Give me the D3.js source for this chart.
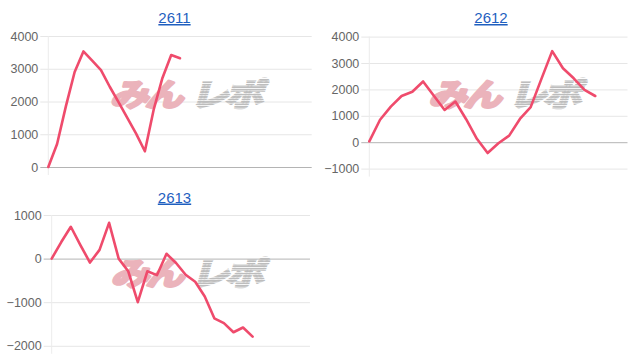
<!DOCTYPE html>
<html>
<head>
<meta charset="utf-8">
<script src="https://cdn.jsdelivr.net/npm/d3@7"></script>
<style>
  body { margin: 0; background: #fff; }
  .tick text { font-family: "Liberation Sans", Arial, sans-serif; font-size: 12.5px; fill: #666; }
  .title { font-family: "Liberation Sans", Arial, sans-serif; font-size: 15px; fill: #1f5fbf; text-decoration: underline; }
</style>
</head>
<body>
<svg id="chart" width="636" height="358"></svg>
<script>
// values (null = no data for that day)
var values2611 = [0, 700, 1850, 2900, 3530, 3250, 2960, 2450, 1980, 1500, 1020, 480, 1750, 2720, 3420, 3320];
var values2612 = [30, 850, 1350, 1750, 1910, 2300, 1760, 1220, 1540, 870, 130, -410, -40, 250, 880, 1330, 2400, 3450, 2800, 2420, 1980, 1750];
var values2613 = [0, 380, 730, 310, -90, 200, 820, 0, -290, -1000, -290, -380, 110, -100, -370, -530, -870, -1370, -1480, -1690, -1580, -1790];

// x categories (labels hidden on the chart)
var days2611 = d3.range(1, 32);
var days2612 = d3.range(1, 26);
var days2613 = d3.range(1, 29);

var ticks2611 = [0, 1000, 2000, 3000, 4000];
var ticks2612 = [-1000, 0, 1000, 2000, 3000, 4000];
var ticks2613 = [-2000, -1000, 0, 1000];

var charts = [
  {title: "2611", values: values2611, days: days2611, ticks: ticks2611, left: 48.3, right: 311.7, top: 36, bottom: 167, tx: 174.5, ty: 23, wy: 106},
  {title: "2612", values: values2612, days: days2612, ticks: ticks2612, left: 369.3, right: 627.5, top: 36.6, bottom: 168.6, tx: 491, ty: 23, wy: 106},
  {title: "2613", values: values2613, days: days2613, ticks: ticks2613, left: 51.7, right: 310, top: 215, bottom: 345.8, tx: 174.5, ty: 202.5, wy: 285}
];

var svg = d3.select("#chart");

// stripe pattern for the grey half of the watermark
var defs = svg.append("defs");
defs.append("pattern")
  .attr("id", "stripes")
  .attr("patternUnits", "userSpaceOnUse")
  .attr("width", 4).attr("height", 3)
  .append("rect")
  .attr("width", 4).attr("height", 2)
  .attr("fill", "#bdbdbd");

charts.forEach(function(c) {
  var g = svg.append("g");

  var x = d3.scaleLinear()
    .domain([0, c.days.length - 1])
    .range([c.left, c.right]);

  var y = d3.scaleLinear()
    .domain(d3.extent(c.ticks))
    .range([c.bottom, c.top]);

  // title
  g.append("text")
    .attr("class", "title")
    .attr("x", c.tx)
    .attr("y", c.ty)
    .attr("text-anchor", "middle")
    .text(c.title);

  // y axis + grid
  var axis = g.append("g")
    .attr("transform", "translate(" + c.left + ",0)")
    .call(d3.axisLeft(y)
      .tickValues(c.ticks)
      .tickSize(-(c.right - c.left))
      .tickPadding(10)
      .tickFormat(d3.format("d")));

  axis.select(".domain").remove();
  axis.selectAll(".tick line")
    .attr("x1", -8)
    .attr("stroke", function(d) { return d === 0 ? "#b4b4b4" : "#e6e6e6"; });

  // left vertical grid line
  g.append("line")
    .attr("x1", c.left).attr("x2", c.left)
    .attr("y1", c.top).attr("y2", c.bottom + 8)
    .attr("stroke", "#ececec");

  // watermark
  var wx = (c.left + c.right) / 2 - 70;
  var wm = g.append("g")
    .attr("transform", "translate(" + wx + "," + c.wy + ") skewX(-16) scale(1,0.82)")
    .style("font-family", "'Noto Sans CJK JP', sans-serif")
    .style("font-weight", "bold")
    .style("font-size", "38px")
    .style("letter-spacing", "-3px");
  wm.append("text")
    .attr("x", 0).attr("y", 0)
    .attr("fill", "#ebb3bb")
    .attr("stroke", "#ebb3bb")
    .attr("stroke-width", 3.5)
    .attr("stroke-linejoin", "round")
    .text("みん");
  wm.append("text")
    .attr("x", 80).attr("y", 0)
    .attr("fill", "url(#stripes)")
    .attr("stroke", "url(#stripes)")
    .attr("stroke-width", 3.5)
    .text("レポ");

  // line
  var line = d3.line()
    .defined(function(d) { return d != null; })
    .x(function(d, i) { return x(i); })
    .y(function(d) { return y(d); });

  g.append("path")
    .datum(c.values)
    .attr("d", line)
    .attr("fill", "none")
    .attr("stroke", "#ef4b6c")
    .attr("stroke-width", 2.6)
    .attr("stroke-linejoin", "round")
    .attr("stroke-linecap", "round");
});
</script>
</body>
</html>
